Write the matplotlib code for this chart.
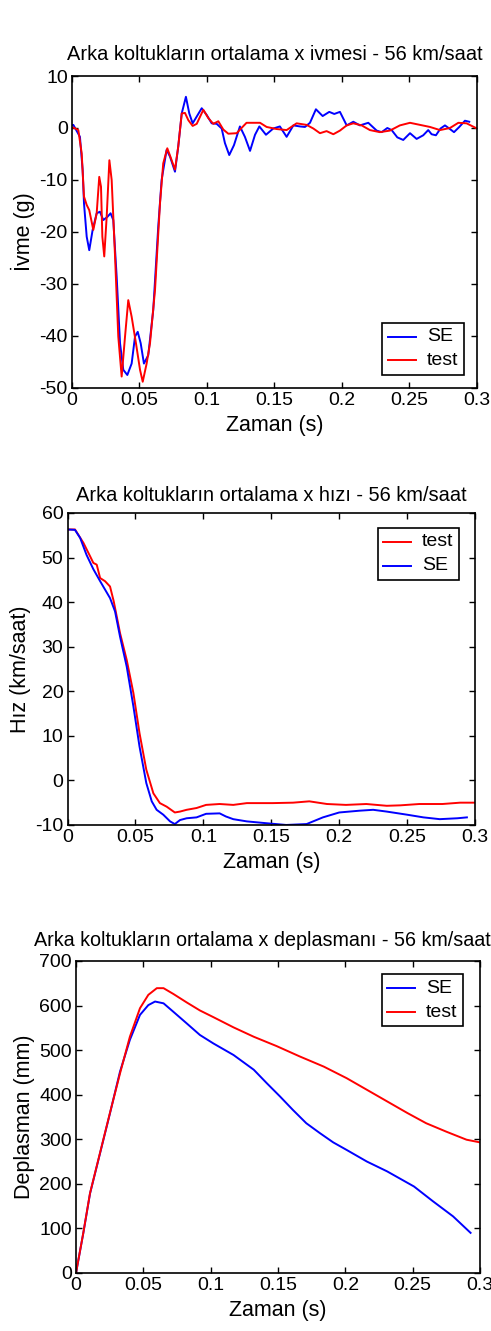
import matplotlib
matplotlib.use("Agg")
import matplotlib.pyplot as plt

plt.rcParams['font.family'] = ['Liberation Sans', 'DejaVu Sans']
plt.rcParams['axes.unicode_minus'] = False

# --- ivme (g) ---
t_acc_se = [0, 0.001, 0.0059, 0.0079, 0.0089, 0.0109, 0.0128, 0.0153, 0.0183, 0.0207, 0.0232,
            0.0262, 0.0286, 0.0306, 0.0331, 0.0356, 0.038, 0.041, 0.0442, 0.0467, 0.0487,
            0.0509, 0.0533, 0.0565, 0.0602, 0.0639, 0.0664, 0.0701, 0.0726, 0.0763, 0.0787,
            0.0813, 0.0844, 0.0869, 0.0894, 0.0924, 0.0961, 0.0998, 0.1035, 0.1072, 0.1109,
            0.1133, 0.1165, 0.12, 0.1244, 0.1281, 0.1319, 0.1356, 0.1388, 0.1437, 0.1491,
            0.154, 0.159, 0.164, 0.1689, 0.1726, 0.1763, 0.1807, 0.1857, 0.1906, 0.1943,
            0.1985, 0.2035, 0.2084, 0.2133, 0.2195, 0.2257, 0.2294, 0.2336, 0.2368, 0.241,
            0.2454, 0.2504, 0.2553, 0.2602, 0.2639, 0.2664, 0.2696, 0.273, 0.2763, 0.2795,
            0.283, 0.2869, 0.2911, 0.2943]
acc_se = [0.5, 0.6, -1.7, -8.1, -14.5, -20.9, -23.5, -19.6, -16.4, -16.1, -17.7,
          -17.1, -16.4, -17.7, -28.6, -41.4, -46.5, -47.5, -45.3, -40.1, -39.2,
          -41.4, -45.3, -43.7, -35, -19, -10, -4.2, -5.5, -8.4, -3.6,
          2.8, 6.0, 2.8, 0.9, 2.2, 3.8, 2.5, 0.9, 0.8, -0.1,
          -2.9, -5.2, -3.3, 0.3, -1.7, -4.4, -1.3, 0.3, -1.3, -0.1,
          0.3, -1.7, 0.5, 0.3, 0.2, 1.0, 3.6, 2.3, 3.1, 2.7,
          3.1, 0.5, 1.2, 0.5, 1.0, -0.5, -0.8, 0.0, -0.4, -1.8,
          -2.3, -1.0, -2.1, -1.4, -0.4, -1.2, -1.4, -0.1, 0.5, -0.1,
          -0.8, 0.2, 1.4, 1.2]

t_acc_test = [0, 0.001, 0.0047, 0.0072, 0.0089, 0.0109, 0.0128, 0.0158, 0.0183, 0.0202, 0.0215,
              0.0225, 0.0239, 0.0257, 0.0277, 0.0294, 0.0319, 0.0343, 0.0368, 0.0393, 0.0417,
              0.0442, 0.0474, 0.0504, 0.0524, 0.0553, 0.0578, 0.0615, 0.0652, 0.0676, 0.0706,
              0.0726, 0.0763, 0.0787, 0.0813, 0.0837, 0.0862, 0.0894, 0.0924, 0.0973, 0.101,
              0.1047, 0.1084, 0.1121, 0.1158, 0.122, 0.1256, 0.1293, 0.1393, 0.1442, 0.1516,
              0.159, 0.1664, 0.1738, 0.1788, 0.1837, 0.1886, 0.1936, 0.1985, 0.2035, 0.2084,
              0.2146, 0.2207, 0.2281, 0.2355, 0.2429, 0.2504, 0.2578, 0.2652, 0.2726, 0.28,
              0.2862, 0.2923, 0.3]
acc_test = [-0.1, 0.1, -0.4, -4.9, -13.2, -14.8, -15.8, -19.6, -16.4, -9.4, -11.3,
            -20.9, -24.7, -17.1, -6.2, -10, -24.7, -40.1, -47.8, -40.1, -33.1,
            -36.3, -41.4, -46.5, -48.8, -45.3, -41.4, -31.2, -14.5, -6.8, -3.9,
            -5.3, -8.0, -3.6, 2.8, 2.9, 1.5, 0.4, 0.8, 3.5, 1.9,
            0.8, 1.3, -0.3, -1.1, -1.0, 0.0, 1.0, 1.0, 0.2, -0.2,
            -0.4, 0.9, 0.6, -0.1, -1.0, -0.6, -1.2, -0.5, 0.5, 0.9,
            0.5, -0.4, -0.8, -0.5, 0.5, 1.0, 0.6, 0.2, -0.4, 0.0,
            1.0, 0.9, -0.1]

# --- hiz (km/saat) ---
t_vel_test = [0, 0.0055, 0.0117, 0.0166, 0.019, 0.0215, 0.024, 0.0276, 0.0313, 0.034, 0.0387,
              0.0436, 0.0485, 0.053, 0.058, 0.0632, 0.068, 0.073, 0.079, 0.0828, 0.0877, 0.095,
              0.102, 0.112, 0.122, 0.132, 0.151, 0.166, 0.178, 0.191, 0.205, 0.22, 0.235,
              0.245, 0.259, 0.276, 0.289, 0.3]
vel_test = [56.3, 56.3, 53.3, 50.3, 48.8, 48.4, 45.4, 44.7, 43.5, 40.2, 33,
            27, 19.6, 10.6, 2.4, -2.9, -5.1, -5.9, -7.2, -7, -6.6, -6.2,
            -5.5, -5.3, -5.5, -5.1, -5.1, -5, -4.7, -5.3, -5.5, -5.3, -5.7,
            -5.6, -5.3, -5.3, -5, -5]

t_vel_se = [0, 0.0055, 0.0093, 0.014, 0.019, 0.024, 0.0313, 0.035, 0.0387, 0.0436, 0.0485,
            0.053, 0.058, 0.062, 0.0656, 0.0705, 0.0755, 0.079, 0.0828, 0.0877, 0.095, 0.102,
            0.112, 0.1166, 0.122, 0.132, 0.146, 0.161, 0.176, 0.188, 0.2, 0.215, 0.225,
            0.235, 0.25, 0.262, 0.274, 0.287, 0.294]
vel_se = [56.3, 56.2, 54.4, 50.6, 47.4, 44.7, 40.9, 37.9, 32.2, 25.5, 16.6,
          7.6, -0.6, -4.7, -6.6, -7.7, -9.2, -9.8, -8.9, -8.5, -8.3, -7.5,
          -7.4, -8.1, -8.7, -9.2, -9.6, -10, -9.8, -8.3, -7.2, -6.8, -6.6,
          -7, -7.7, -8.3, -8.7, -8.5, -8.3]

# --- deplasman (mm) ---
t_dis_se = [0, 0.0054, 0.0104, 0.0178, 0.0252, 0.0327, 0.040, 0.0475, 0.0537, 0.0587, 0.065,
            0.0723, 0.0822, 0.092, 0.102, 0.117, 0.132, 0.1416, 0.1515, 0.161, 0.171, 0.181,
            0.191, 0.201, 0.216, 0.231, 0.251, 0.265, 0.28, 0.293]
dis_se = [0, 89, 178, 268, 358, 452, 523, 579, 601, 609, 605,
          586, 560, 534, 515, 489, 456, 426, 396, 366, 336, 314,
          293, 276, 250, 228, 194, 161, 127, 90]

t_dis_test = [0, 0.0054, 0.0104, 0.0178, 0.0252, 0.0327, 0.040, 0.0475, 0.0537, 0.06, 0.065,
              0.0723, 0.0822, 0.092, 0.102, 0.117, 0.132, 0.149, 0.166, 0.184, 0.201, 0.216,
              0.231, 0.246, 0.26, 0.275, 0.29, 0.3]
dis_test = [0, 89.6, 179, 269, 359, 448, 530, 594, 624, 639, 639,
            626, 607, 589, 574, 551, 530, 509, 486, 463, 437, 411,
            385, 359, 336, 317, 299, 293]

x_ticks = [0, 0.05, 0.1, 0.15, 0.2, 0.25, 0.3]
x_ticklabels = ['0', '0.05', '0.1', '0.15', '0.2', '0.25', '0.3']

fig = plt.figure(figsize=(4.91, 13.31), dpi=100)
ax1 = fig.add_axes([0.1466, 0.7085, 0.8248, 0.2344])
ax2 = fig.add_axes([0.1375, 0.3802, 0.8300, 0.2344])
ax3 = fig.add_axes([0.1548, 0.0436, 0.8228, 0.2344])

lw = 1.4
ax1.plot(t_acc_se, acc_se, color='#0000ff', lw=lw, label='SE')
ax1.plot(t_acc_test, acc_test, color='#ff0000', lw=lw, label='test')
ax1.set_ylim(-50, 10)
ax1.set_yticks(range(-50, 11, 10))
ax1.set_ylabel('İvme (g)')
ax1.set_title('Arka koltukların ortalama x ivmesi - 56 km/saat', fontsize=14.4, pad=11.5)
ax1.legend(loc='lower right', bbox_to_anchor=(0.968, 0.042), borderaxespad=0)

ax2.plot(t_vel_test, vel_test, color='#ff0000', lw=lw, label='test')
ax2.plot(t_vel_se, vel_se, color='#0000ff', lw=lw, label='SE')
ax2.set_ylim(-10, 60)
ax2.set_yticks(range(-10, 61, 10))
ax2.set_ylabel('Hız (km/saat)')
ax2.set_title('Arka koltukların ortalama x hızı - 56 km/saat', fontsize=14.4, pad=8.5)
ax2.legend(loc='upper right', bbox_to_anchor=(0.961, 0.952), borderaxespad=0)

ax3.plot(t_dis_se, dis_se, color='#0000ff', lw=lw, label='SE')
ax3.plot(t_dis_test, dis_test, color='#ff0000', lw=lw, label='test')
ax3.set_ylim(0, 700)
ax3.set_yticks(range(0, 701, 100))
ax3.set_ylabel('Deplasman (mm)')
ax3.set_title('Arka koltukların ortalama x deplasmanı - 56 km/saat', fontsize=14.2, pad=10.5,
              x=0.4616)
ax3.legend(loc='upper right', bbox_to_anchor=(0.958, 0.958), borderaxespad=0)

for ax in (ax1, ax2, ax3):
    ax.set_xlim(0, 0.3)
    ax.set_xticks(x_ticks)
    ax.set_xticklabels(x_ticklabels)
    ax.set_xlabel('Zaman (s)', fontsize=15.5, labelpad=4)
    ax.yaxis.label.set_fontsize(15.5)
    ax.yaxis.labelpad = 3
    ax.tick_params(direction='in', top=True, right=True, labelsize=14,
                   length=4, width=1, pad=3)
    for s in ax.spines.values():
        s.set_linewidth(1.2)
    leg = ax.get_legend()
    leg.get_frame().set_edgecolor('black')
    leg.get_frame().set_linewidth(1.2)
    leg.get_frame().set_boxstyle('square', pad=0)
    leg.get_frame().set_alpha(1)
    for txt in leg.get_texts():
        txt.set_fontsize(14)

fig.savefig('out.png', dpi=100)
